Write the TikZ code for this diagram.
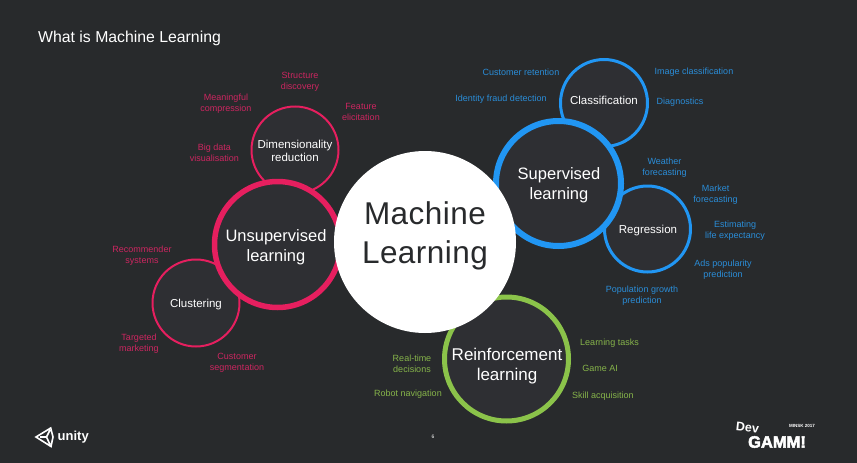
\documentclass[tikz,border=0pt]{standalone}
\usepackage{fontspec}
\setmainfont{Liberation Sans}
\newfontfamily\spacedfont[LetterSpace=1.5]{Liberation Sans}
\newfontfamily\heavyfont[FakeBold=3]{Liberation Sans Bold}
\definecolor{bg}{HTML}{282A2C}
\definecolor{disc}{HTML}{2E2F33}
\definecolor{pinkc}{HTML}{E61F5F}
\definecolor{pinkt}{HTML}{CC2660}
\definecolor{bluec}{HTML}{2196F3}
\definecolor{bluet}{HTML}{2A8DD8}
\definecolor{greenc}{HTML}{8BC34A}
\definecolor{greent}{HTML}{86B44A}
\tikzset{
  x=1pt,y=-1pt,
  circ/.style={circle,draw,fill=disc,inner sep=0pt},
  small/.style={align=center,inner sep=0pt,text=white,font=\fontsize{11.5}{13}\selectfont},
  big/.style={align=center,inner sep=0pt,text=white,font=\fontsize{#1}{20}\selectfont},
  lab/.style={align=center,inner sep=0pt,font=\fontsize{9}{11}\selectfont},
  pk/.style={lab,text=pinkt},
  bl/.style={lab,text=bluet},
  gr/.style={lab,text=greent}
}
\begin{document}
\begin{tikzpicture}
\fill[bg] (0,0) rectangle (857,463);
\useasboundingbox (0,0) rectangle (857,463);
\node[anchor=west,inner sep=0pt,text=white,font=\fontsize{15.8}{18}\selectfont] (title) at (38,38) {What is Machine Learning};
% small discs
\node[circ,draw=pinkc,line width=2pt,minimum size=87pt] (dim) at (295,150) {};
\node[circ,draw=pinkc,line width=2pt,minimum size=87pt] (clu) at (196,303) {};
\node[circ,draw=bluec,line width=3pt,minimum size=87pt] (cla) at (604,103) {};
\node[circ,draw=bluec,line width=3pt,minimum size=86pt] (reg) at (647.5,229) {};
% large discs
\node[circ,draw=pinkc,line width=5.5pt,minimum size=126pt] (uns) at (277.5,244.5) {};
\node[circ,draw=bluec,line width=6pt,minimum size=125pt] (sup) at (558.5,183.5) {};
\node[circ,draw=greenc,line width=5pt,minimum size=124pt] (rei) at (506.5,359) {};
% centre
\node[circle,fill=white,inner sep=0pt,minimum size=182pt] (ml) at (425,242) {};
\node[align=center,inner sep=0pt,text=bg,font=\spacedfont\fontsize{31.5}{39}\selectfont] (mlt) at (425,236) {Machine\\Learning};
% disc texts
\node[small] (dimt) at (295,151) {Dimensionality\\reduction};
\node[small] (clut) at (196,304.5) {Clustering};
\node[small] (clat) at (604,100) {Classification};
\node[small] (regt) at (648,231) {Regression};
\node[big=16.5] (unst) at (276,247) {Unsupervised\\learning};
\node[big=16.5] (supt) at (559,185) {Supervised\\learning};
\node[big=17] (reit) at (507,366) {Reinforcement\\learning};
% pink labels
\node[pk] (p1) at (300,82) {Structure\\discovery};
\node[pk] (p2) at (226,104) {Meaningful\\compression};
\node[pk] (p3) at (361,112) {Feature\\elicitation};
\node[pk] (p4) at (214.5,153) {Big data\\visualisation};
\node[pk] (p5) at (142,256) {Recommender\\systems};
\node[pk] (p6) at (139,344) {Targeted\\marketing};
\node[pk] (p7) at (237,362.5) {Customer\\segmentation};
% blue labels
\node[bl] (b1) at (521,72.5) {Customer retention};
\node[bl] (b2) at (501,99) {Identity fraud detection};
\node[bl] (b3) at (694,72.5) {Image classification};
\node[bl] (b4) at (680,102.5) {Diagnostics};
\node[bl] (b5) at (664.5,168) {Weather\\forecasting};
\node[bl] (b6) at (715.5,194.5) {Market\\forecasting};
\node[bl] (b7) at (735,230.5) {Estimating\\life expectancy};
\node[bl] (b8) at (723,269.5) {Ads popularity\\prediction};
\node[bl] (b9) at (642,295.5) {Population growth\\prediction};
% green labels
\node[gr] (g1) at (412,363.5) {Real-time\\decisions};
\node[gr] (g2) at (408,394) {Robot navigation};
\node[gr] (g3) at (609.5,343) {Learning tasks};
\node[gr] (g4) at (600,368) {Game AI};
\node[gr] (g5) at (603,396.5) {Skill acquisition};
% page number
\node[inner sep=0pt,text=white,font=\fontsize{5}{5}\selectfont] (pg) at (433,437) {6};
% unity logo
\draw[white,line width=1.6pt,line join=miter]
  (36,437) -- (50.7,428) -- (53,437) -- (51,446.5) -- cycle
  (40,437) -- (46.5,437) -- (50,430)
  (46.5,437) -- (50,444.5);
\node[anchor=west,inner sep=0pt,text=white,font=\fontsize{13}{13}\bfseries\selectfont] (unity) at (57.5,437) {unity};
% DevGAMM logo
\node[inner sep=0pt,text=white,rotate=-6,font=\fontsize{12.5}{12.5}\bfseries\selectfont] (dev) at (747.5,427.5) {Dev};
\node[inner sep=0pt,text=white,font=\heavyfont\fontsize{16.5}{16.5}\selectfont] (gamm) at (777,442) {GAMM!};
\node[inner sep=0pt,text=white,font=\fontsize{4.5}{4.5}\bfseries\selectfont] (minsk) at (802,425.5) {MINSK 2017};
\end{tikzpicture}
\end{document}
